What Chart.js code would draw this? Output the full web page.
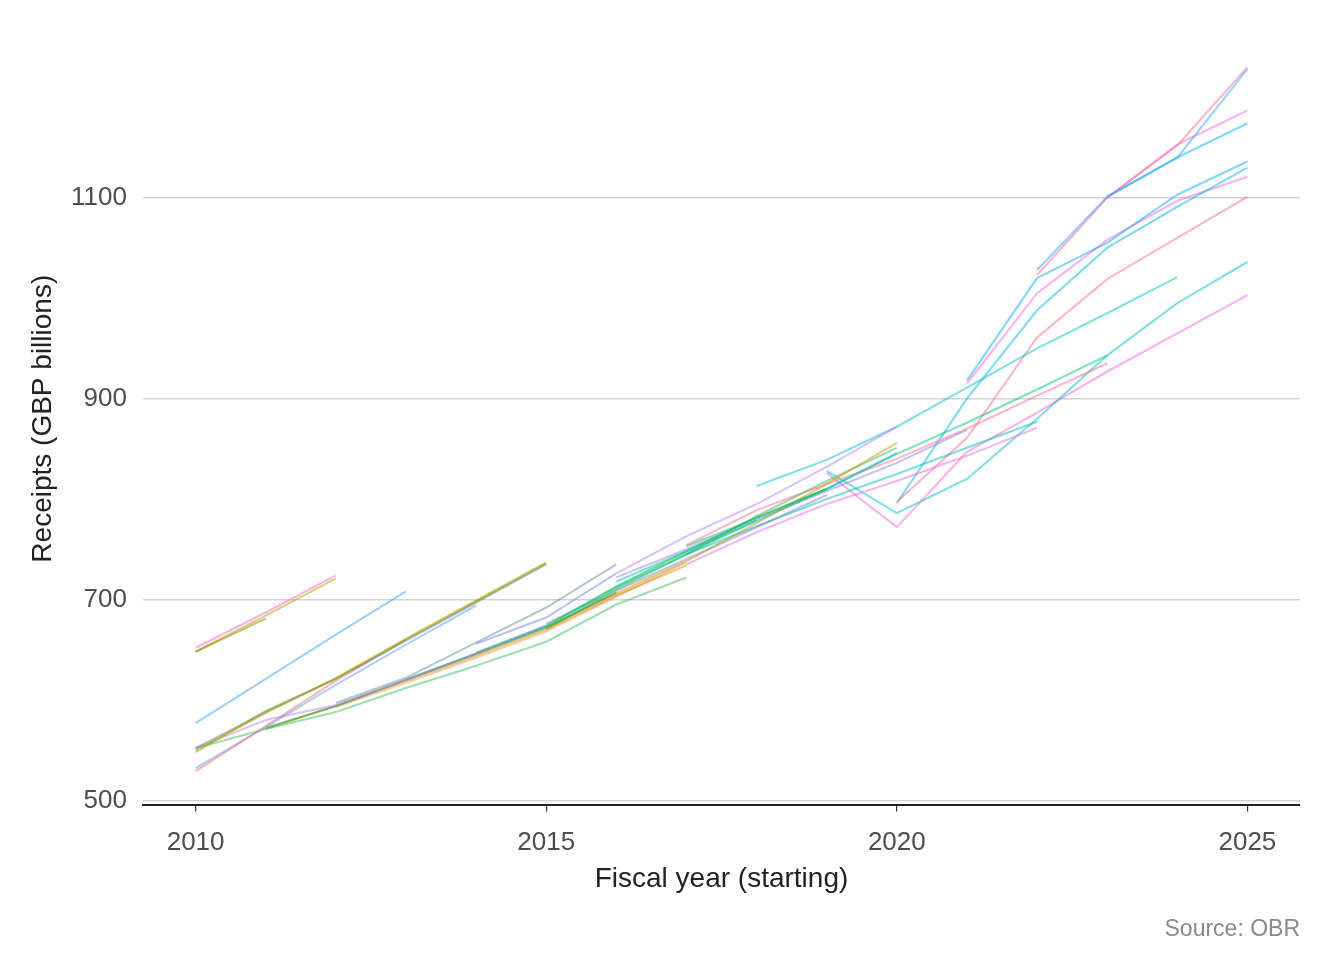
<!DOCTYPE html>
<html>
<head>
<meta charset="utf-8">
<script src="https://cdn.jsdelivr.net/npm/chart.js@4.4.1/dist/chart.umd.min.js"></script>
<style>
  html, body { margin: 0; padding: 0; background: #fff; }
  #wrap { width: 1344px; height: 960px; }
</style>
</head>
<body>
<div id="wrap"><canvas id="myChart"></canvas></div>
<script>
// OBR receipts forecasts, one line per forecast vintage
// first fiscal year of each vintage
const vintageStart = [
  2010, 2010, 2010, 2010, 2010, 2010, 2010, 2010, 2010, 2010,
  2011, 2010, 2011, 2012, 2012, 2013, 2014, 2014, 2015, 2015,
  2015, 2016, 2016, 2016, 2017, 2017, 2017, 2017, 2018, 2019,
  2019, 2020, 2020, 2021, 2021, 2022, 2022, 2023, 2023
];

const r01 = [652, 687, 724];
const r02 = [648, 681];
const r03 = [648, 684, 721];
const r04 = [577, 621, 665, 708];
const r05 = [550, 587, 622, 661, 699, 737];
const r06 = [552, 588, 621, 659, 697, 735];
const r07 = [548, 589, 621, 660, 698, 736];
const r08 = [529, 574, 619, 660];
const r09 = [532, 573, 615, 655, 694];
const r10 = [552, 580, 595, 620, 646, 674];
const r11 = [572, 594, 620, 646, 672, 707];
const r12 = [552, 571, 588, 612, 634, 658, 695, 722];
const r13 = [571, 594, 619, 644, 670, 704, 734];
const r14 = [597, 622, 657, 692, 735];
const r15 = [593, 617, 642, 668, 703, 737];
const r16 = [620, 646, 673, 712, 745, 779];
const r17 = [656, 682, 726];
const r18 = [647, 674, 713, 748, 782, 810];
const r19 = [672, 706, 738, 776, 815, 856];
const r20 = [670, 710, 745, 783, 818, 851];
const r21 = [676, 709, 740, 772, 804];
const r22 = [726, 763, 795, 832, 872];
const r23 = [718, 748, 778, 810, 846];
const r24 = [722, 750, 780, 808, 836, 869];
const r25 = [745, 773, 800, 825, 851, 877];
const r26 = [754, 789, 815, 840, 870, 903, 935];
const r27 = [753, 781, 810, 845, 876, 909, 943];
const r28 = [735, 767, 795, 818, 843, 871];
const r29 = [813, 839, 872, 911, 950, 985, 1021];
const r30 = [828, 786, 820, 880, 943, 995, 1036];
const r31 = [826, 772, 847, 886, 927, 965, 1003];
const r32 = [797, 861, 961, 1019, 1060, 1101];
const r33 = [796, 900, 988, 1050, 1091, 1130];
const r34 = [918, 1020, 1055, 1103, 1136];
const r35 = [915, 1005, 1058, 1097, 1121];
const r36 = [1028, 1101, 1140, 1228];
const r37 = [1023, 1100, 1152, 1230];
const r38 = [1101, 1140, 1174];
const r39 = [1100, 1153, 1187];

const receipts = [
  r01, r02, r03, r04, r05, r06, r07, r08, r09, r10,
  r11, r12, r13, r14, r15, r16, r17, r18, r19, r20,
  r21, r22, r23, r24, r25, r26, r27, r28, r29, r30,
  r31, r32, r33, r34, r35, r36, r37, r38, r39
];

const lineColours = [
  "#FF61C3", "#8F8400", "#A3A500", "#35A2FF", "#C49A00", "#5F8FA0", "#7CAE00", "#F8766D", "#619CFF", "#B983FF",
  "#00A030", "#3DC060", "#E58700", "#5F8FA0", "#F0A050", "#00C08B", "#7F7FE8", "#00BA38", "#C49A00", "#3DB86A",
  "#7E86C8", "#B983FF", "#00BFC4", "#8F7FE8", "#00BFB0", "#FF6C91", "#00C08B", "#E76BF3", "#00BFC4", "#00BFC4",
  "#F564E3", "#FF6C91", "#00BCD8", "#00B0F6", "#F564E3", "#35A2FF", "#FF6C91", "#00B0F6", "#F564E3"
];

const xTicks = [2010, 2015, 2020, 2025];
const yTicks = [500, 700, 900, 1100];

const datasets = receipts.map(function (vals, i) {
  return {
    label: "Vintage " + (i + 1),
    data: vals.map(function (v, j) { return { x: vintageStart[i] + j, y: v }; }),
    borderColor: lineColours[i] + "80",
    borderWidth: 2.1,
    pointRadius: 0,
    tension: 0,
    fill: false,
  };
});

const ctx = document.getElementById("myChart").getContext("2d");
const myChart = new Chart(ctx, {
  type: "line",
  data: { datasets: datasets },
  options: {
    responsive: true,
    maintainAspectRatio: false,
    animation: false,
    layout: { padding: { top: 32, right: 44, bottom: 12, left: 0 } },
    plugins: {
      legend: { display: false },
      tooltip: { enabled: false },
      title: {
        display: true,
        text: "Source: OBR",
        position: "bottom",
        align: "end",
        color: "#8a8a8a",
        font: { family: "Liberation Sans", size: 23, weight: "normal" },
        padding: { top: 10, bottom: 5 },
      },
    },
    scales: {
      x: {
        type: "linear",
        min: 2009.25,
        max: 2025.75,
        afterBuildTicks: function (scale) {
          scale.ticks = xTicks.map(function (v) { return { value: v }; });
        },
        afterFit: function (scale) { scale.height = 100; },
        grid: { drawOnChartArea: false, drawTicks: true, tickLength: 6, color: "#333", lineWidth: 1.2 },
        border: { display: true, color: "#222", width: 2 },
        ticks: {
          color: "#4d4d4d",
          font: { family: "Liberation Sans", size: 26 },
          padding: 16,
          maxRotation: 0,
          callback: function (v) { return String(v); },
        },
        title: {
          display: true,
          text: "Fiscal year (starting)",
          color: "#222",
          font: { family: "Liberation Sans", size: 28 },
          padding: { top: 0, bottom: 9 },
        },
      },
      y: {
        min: 495,
        max: 1265,
        afterBuildTicks: function (scale) {
          scale.ticks = yTicks.map(function (v) { return { value: v }; });
        },
        afterFit: function (scale) { scale.width = 143; },
        grid: { drawTicks: false, color: "#d3d3d3", lineWidth: 1.4 },
        border: { display: false },
        ticks: {
          color: "#4d4d4d",
          font: { family: "Liberation Sans", size: 26 },
          padding: 16,
          callback: function (v) { return String(v); },
        },
        title: {
          display: true,
          text: "Receipts (GBP billions)",
          color: "#222",
          font: { family: "Liberation Sans", size: 28 },
          padding: { top: 26, bottom: 0 },
        },
      },
    },
  },
});
</script>
</body>
</html>
